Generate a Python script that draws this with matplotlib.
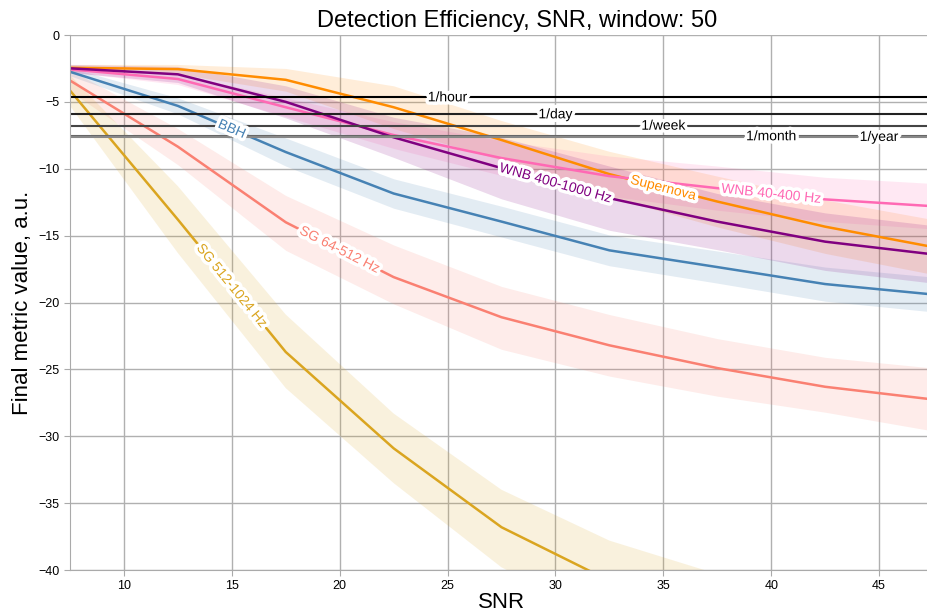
import numpy as np
import matplotlib
matplotlib.use("Agg")
import matplotlib.pyplot as plt
import matplotlib.patheffects as pe

plt.rcParams['font.family'] = ['Liberation Sans', 'DejaVu Sans']

# SNR sample points
snr = [7.5, 12.5, 17.5, 22.5, 27.5, 32.5, 37.5, 42.5, 47.5]

# median metric values per signal class
bbh = [-2.75, -5.3, -8.75, -11.85, -13.95, -16.1, -17.35, -18.62, -19.4]
sg64 = [-3.4, -8.35, -14.0, -18.1, -21.1, -23.2, -24.9, -26.3, -27.25]
sg512 = [-4.15, -13.8, -23.7, -30.9, -36.8, -40.8, -43.5, -46.0, -48.0]
supernova = [-2.45, -2.55, -3.35, -5.4, -7.85, -10.4, -12.45, -14.33, -15.85]
wnb40 = [-2.57, -3.29, -5.4, -7.48, -9.2, -10.55, -11.45, -12.29, -12.8]
wnb400 = [-2.49, -2.94, -5.0, -7.65, -9.95, -12.2, -13.95, -15.45, -16.4]

# spread (upper / lower) of each class
bbh_hi = [-2.45, -4.7, -7.7, -10.75, -12.8, -14.95, -16.15, -17.35, -18.1]
bbh_lo = [-3.05, -5.9, -9.8, -12.95, -15.1, -17.25, -18.55, -19.9, -20.7]
sg64_hi = [-2.6, -7.0, -12.0, -15.7, -18.8, -20.9, -22.7, -24.1, -24.9]
sg64_lo = [-4.2, -9.7, -16.1, -20.1, -23.5, -25.5, -27.0, -28.2, -29.6]
sg512_hi = [-3.0, -11.3, -20.9, -28.3, -34.0, -37.8, -40.3, -42.5, -44.5]
sg512_lo = [-5.3, -16.3, -26.4, -33.5, -39.8, -43.8, -46.5, -49.0, -51.0]
sn_hi = [-2.2, -2.2, -2.5, -3.8, -6.4, -8.7, -10.55, -12.33, -13.8]
sn_lo = [-2.7, -2.9, -4.2, -7.0, -9.35, -12.1, -14.35, -16.33, -17.9]
wnb40_hi = [-2.37, -2.9, -4.7, -6.48, -7.9, -9.05, -9.8, -10.64, -11.1]
wnb40_lo = [-2.77, -3.7, -6.1, -8.48, -10.5, -12.05, -13.1, -13.94, -14.5]
wnb400_hi = [-2.2, -2.35, -3.8, -6.15, -7.65, -9.8, -11.85, -13.3, -14.25]
wnb400_lo = [-2.8, -3.55, -6.2, -9.15, -12.25, -14.6, -16.05, -17.6, -18.55]

names = ['BBH', 'SG 64-512 Hz', 'SG 512-1024 Hz', 'Supernova',
         'WNB 40-400 Hz', 'WNB 400-1000 Hz']
colors = ['steelblue', 'salmon', 'goldenrod', 'darkorange', 'hotpink', 'purple']
label_x = [15, 20, 15, 35, 40, 30]

# false alarm rate thresholds
far_names = ['1/hour', '1/day', '1/week', '1/month', '1/year']
far_values = [-4.66, -5.93, -6.78, -7.57, -7.62]
far_colors = ['#000000', '#222222', '#444444', '#666666', '#888888']
far_label_x = [25, 30, 35, 40, 45]

fig = plt.figure(figsize=(9.27, 6.13), dpi=100)
ax = fig.add_axes([0.0755, 0.0701, 0.931, 0.8728])
ax.set_xlim(7.5, 47.5)
ax.set_ylim(-40, 0)

ax.grid(True, color='#b0b0b0', lw=1)
ax.set_axisbelow(True)
for s in ['top', 'right']:
    ax.spines[s].set_visible(False)
for s in ['left', 'bottom']:
    ax.spines[s].set_color('#aaaaaa')
ax.tick_params(colors='#aaaaaa', labelcolor='black', labelsize=9, length=4)

meds = [bbh, sg64, sg512, supernova, wnb40, wnb400]
his = [bbh_hi, sg64_hi, sg512_hi, sn_hi, wnb40_hi, wnb400_hi]
los = [bbh_lo, sg64_lo, sg512_lo, sn_lo, wnb40_lo, wnb400_lo]

for med, hi, lo, c in zip(meds, his, los, colors):
    ax.fill_between(snr, lo, hi, color=c, alpha=0.15, lw=0)
for med, c in zip(meds, colors):
    ax.plot(snr, med, color=c, lw=1.8)

for val, c in zip(far_values, far_colors):
    ax.axhline(val, color=c, lw=1.5)

stroke = [pe.withStroke(linewidth=5, foreground='white')]

# inline labels on the series, rotated along the curve
for med, name, c, lx in zip(meds, names, colors, label_x):
    ly = np.interp(lx, snr, med)
    p1 = ax.transData.transform((lx - 0.5, np.interp(lx - 0.5, snr, med)))
    p2 = ax.transData.transform((lx + 0.5, np.interp(lx + 0.5, snr, med)))
    ang = np.degrees(np.arctan2(p2[1] - p1[1], p2[0] - p1[0]))
    ax.text(lx, ly, name, color=c, fontsize=10, rotation=ang,
            rotation_mode='anchor', ha='center', va='center',
            path_effects=stroke, zorder=5)

for val, name, lx in zip(far_values, far_names, far_label_x):
    ax.text(lx, val, name, color='black', fontsize=10, ha='center',
            va='center', path_effects=stroke, zorder=5)

ax.set_title('Detection Efficiency, SNR, window: 50', fontsize=17, x=0.518)
ax.set_xlabel('SNR', fontsize=16, labelpad=0)
ax.set_ylabel('Final metric value, a.u.', fontsize=16)

fig.savefig('out.png', dpi=100)
